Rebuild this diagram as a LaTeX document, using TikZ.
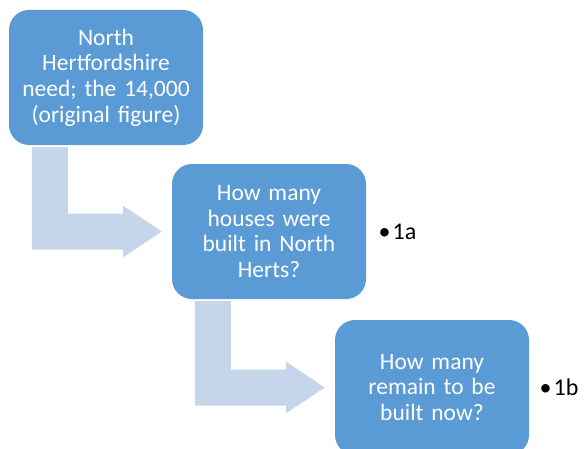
\documentclass[tikz,border=0pt]{standalone}
\usepackage{fontspec}
\setmainfont{Carlito}
\usetikzlibrary{positioning,calc}
\definecolor{boxblue}{RGB}{91,155,213}
\definecolor{arrowblue}{RGB}{197,213,234}
\tikzset{
  stepbox/.style={rectangle, rounded corners=20pt, fill=boxblue, text=white,
    minimum width=194pt, minimum height=135pt, text width=180pt, align=center,
    inner sep=0pt, font=\fontsize{23.5}{25.7}\selectfont},
  tag/.style={font=\fontsize{24}{26}\selectfont}
}

\begin{document}
\begin{tikzpicture}[x=1pt,y=1pt]
   \clip (0,0) rectangle (585,448);

   \node[stepbox] (need) at (106,370.5) {North\\Hertfordshire\\need; the 14,000\\(original figure)};
   \node[stepbox] (built) at (269,216.5) {How many\\houses were\\built in North\\Herts?};
   \node[stepbox] (remain) at (432,60.5) {How many\\remain to be\\built now?};

   % bent arrows between the steps
   \foreach \from/\to in {need/built, built/remain}
      \fill[arrowblue] let \p1=(\from.south west), \p2=(\to.west) in
         (\x1+23,\y1-2) -- (\x1+59,\y1-2) -- (\x1+59,\y2+18) -- (\x2-49,\y2+18)
         -- (\x2-49,\y2+26) -- (\x2-10,\y2) -- (\x2-49,\y2-26) -- (\x2-49,\y2-18)
         -- (\x1+23,\y2-18) -- cycle;

   \node[tag, right=9pt of built] (onea) {\textbullet\kern2pt 1a};
   \node[tag, right=7pt of remain] (oneb) {\textbullet\kern2pt 1b};
\end{tikzpicture}
\end{document}
